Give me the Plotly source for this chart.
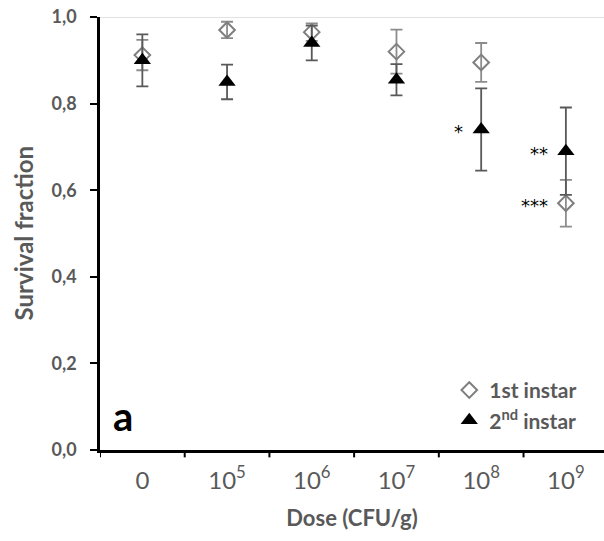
import plotly.graph_objects as go

doses = ["0", "10<sup>5</sup>", "10<sup>6</sup>", "10<sup>7</sup>", "10<sup>8</sup>", "10<sup>9</sup>"]
first_instar = [0.912, 0.970, 0.965, 0.920, 0.895, 0.570]
first_err = [0.035, 0.019, 0.020, 0.051, 0.045, 0.054]
second_instar = [0.900, 0.850, 0.940, 0.855, 0.740, 0.690]
second_err = [0.060, 0.040, 0.040, 0.036, 0.095, 0.101]
sig_labels = [("*", 4, 0.740), ("**", 5, 0.690), ("***", 5, 0.570)]
y_ticks = [0.0, 0.2, 0.4, 0.6, 0.8, 1.0]
y_tick_text = ["0,0", "0,2", "0,4", "0,6", "0,8", "1,0"]

FONT = "Lato"
GRAY = "#595959"
xs = list(range(len(doses)))

fig = go.Figure()
fig.add_trace(go.Scatter(
    x=xs, y=first_instar, mode="markers", name="<b>1st instar</b>",
    marker=dict(symbol="diamond-open", size=12, color="#7f7f7f", line=dict(width=2, color="#7f7f7f")),
    error_y=dict(type="data", array=first_err, visible=True, color="#8c8c8c", thickness=1.8, width=6),
))
fig.add_trace(go.Scatter(
    x=xs, y=second_instar, mode="markers", name="<b>2<sup>nd</sup> instar</b>",
    marker=dict(symbol="triangle-up", size=15, color="black"),
    error_y=dict(type="data", array=second_err, visible=True, color="#595959", thickness=1.8, width=6),
))

for txt, xi, yv in sig_labels:
    fig.add_annotation(x=xi, y=yv, text=txt, showarrow=False, xanchor="right",
                       xshift=-16, yshift=-2, font=dict(family="DejaVu Sans", size=18, color="black"))

fig.add_annotation(x=0.022, y=0.079, xref="paper", yref="paper", text="<b>a</b>", showarrow=False,
                   xanchor="left", yanchor="middle", font=dict(family=FONT, size=40, color="black"))

# y-axis title placed as rotated text
fig.add_annotation(x=-0.151, y=0.5, xref="paper", yref="paper", text="<b>Survival fraction</b>",
                   showarrow=False, textangle=-90, xanchor="center", yanchor="middle",
                   font=dict(family=FONT, size=24, color=GRAY))

fig.add_shape(type="line", xref="paper", yref="y", x0=0, x1=1, y0=1.0, y1=1.0,
              line=dict(color="#d9d9d9", width=1.5), layer="below")

fig.update_layout(
    width=604, height=541,
    margin=dict(l=100, r=0, t=17, b=91),
    paper_bgcolor="white", plot_bgcolor="white",
    showlegend=True,
    legend=dict(x=0.693, y=0.103, xanchor="left", yanchor="middle", bgcolor="rgba(0,0,0,0)",
                font=dict(family=FONT, size=21, color=GRAY), tracegroupgap=0),
    font=dict(family=FONT, color=GRAY),
)
fig.update_xaxes(
    tickmode="array", tickvals=xs, ticktext=doses,
    range=[-0.5, 5.45], showgrid=False, zeroline=False,
    showline=True, linecolor="black", linewidth=2.5,
    ticks="", ticklabelstandoff=7, tickfont=dict(family=FONT, size=24, color=GRAY),
    title=dict(text="<b>Dose (CFU/g)</b>", font=dict(family=FONT, size=22, color=GRAY), standoff=19),
)
for b in [-0.5, 0.5, 1.5, 2.5, 3.5, 4.5]:
    fig.add_shape(type="line", xref="x", yref="paper", x0=b, x1=b, y0=0, y1=-0.017,
                  line=dict(color="black", width=2))
fig.update_yaxes(
    range=[0, 1.0], tickmode="array", tickvals=y_ticks, ticktext=["<b>%s</b>" % t for t in y_tick_text],
    showgrid=False, zeroline=False, showline=True, linecolor="black", linewidth=2.5,
    ticks="outside", ticklen=7, tickwidth=2, tickcolor="black", ticklabelstandoff=10,
    tickfont=dict(family=FONT, size=18, color=GRAY),
)

fig.write_html("out.html")
